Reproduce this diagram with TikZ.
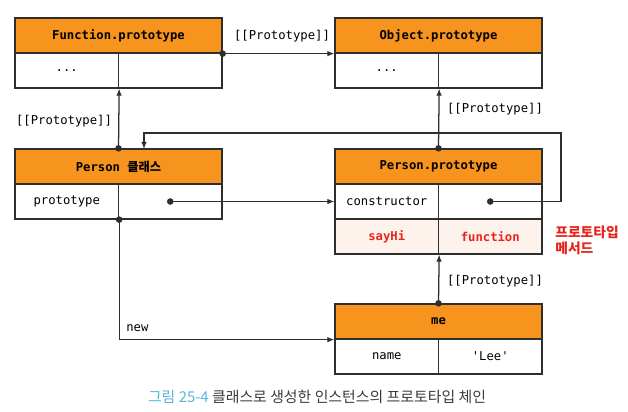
\documentclass[tikz,border=0pt]{standalone}
\usepackage{fontspec}
\setmainfont{DejaVu Sans}
\setmonofont{DejaVu Sans Mono}
\newfontfamily\kr{Noto Sans CJK KR}
\usetikzlibrary{arrows.meta}
\definecolor{hdrorange}{HTML}{F7941D}
\definecolor{methodbg}{HTML}{FDF2EC}
\definecolor{methodred}{HTML}{E8251C}
\definecolor{capblue}{HTML}{5AB4DC}
\definecolor{capgray}{HTML}{3A3A3A}
\definecolor{linegray}{HTML}{2E2E2E}

\begin{document}
\begin{tikzpicture}[x=0.025cm,y=-0.025cm,line width=0.9pt,
  font=\ttfamily\fontsize{8.7}{10}\selectfont,
  hdr/.style={draw=linegray,fill=hdrorange,minimum width=5.175cm,minimum height=0.875cm,
    inner sep=0pt,font=\ttfamily\bfseries\fontsize{8.7}{10}\selectfont},
  cell/.style={draw=linegray,fill=white,minimum width=2.5875cm,minimum height=0.875cm,inner sep=0pt},
  method/.style={cell,fill=methodbg,text=methodred,font=\ttfamily\bfseries\fontsize{8.7}{10}\selectfont},
  link/.style={draw=linegray,{Circle[length=4.6pt]}-{Latex[length=5pt,width=4pt]},shorten <=-2.3pt},
  lbl/.style={font=\ttfamily\fontsize{8.7}{10}\selectfont}]
  \useasboundingbox (0,0) rectangle (628,412);
  % Function.prototype
  \node[hdr] (fph) at (118.5,35.5) {Function.prototype};
  \node[cell] (fpk) at (66.75,70.5) {...};
  \node[cell] (fpv) at (170.25,70.5) {};
  % Object.prototype
  \node[hdr] (oph) at (438.5,35.5) {Object.prototype};
  \node[cell] (opk) at (386.75,70.5) {...};
  \node[cell] (opv) at (490.25,70.5) {};
  % Person 클래스
  \node[hdr] (pch) at (118.5,166.5) {Person {\kr 클래스}};
  \node[cell] (pck) at (66.75,201.5) {prototype};
  \node[cell] (pcv) at (170.25,201.5) {};
  % Person.prototype
  \node[hdr] (pph) at (438.5,166.5) {Person.prototype};
  \node[cell] (ppck) at (386.75,201.5) {constructor};
  \node[cell] (ppcv) at (490.25,201.5) {};
  \node[method] (ppmk) at (386.75,236.5) {sayHi};
  \node[method] (ppmv) at (490.25,236.5) {function};
  \node[anchor=west,align=left,text=methodred,font=\kr\bfseries\fontsize{9.8}{11.4}\selectfont]
    (note) at (550,240) {프로토타입\\메서드};
  % me
  \node[hdr] (meh) at (438.5,321.5) {me};
  \node[cell] (mek) at (386.75,356.5) {name};
  \node[cell] (mev) at (490.25,356.5) {'Lee'};
  % 연결
  \coordinate (loop) at (561,133);
  \coordinate (pcin) at (144,149);
  \draw[link] (fph.south east) -- (oph.south west);
  \node[lbl] (l1) at (282,36) {[[Prototype]]};
  \draw[link] (pch.north) -- (fpk.south east);
  \node[lbl] (l2) at (64,121) {[[Prototype]]};
  \draw[link] (pph.north) -- (opk.south east);
  \node[lbl] (l3) at (495,109) {[[Prototype]]};
  \draw[link] (meh.north) -- (ppmk.south east);
  \node[lbl] (l4) at (495,281) {[[Prototype]]};
  \draw[link] (pcv.center) -- (ppck.west);
  \draw[link] (ppcv.center) -| (loop) -| (pcin);
  \draw[link] (pck.south east) |- (meh.south west);
  \node[lbl,anchor=west] (newlbl) at (121,328) {new};
  % 캡션
  \node[font=\kr\fontsize{10.6}{12}\selectfont,text=capgray] (cap) at (317,397)
    {{\color{capblue}그림 25-4} 클래스로 생성한 인스턴스의 프로토타입 체인};
\end{tikzpicture}
\end{document}
